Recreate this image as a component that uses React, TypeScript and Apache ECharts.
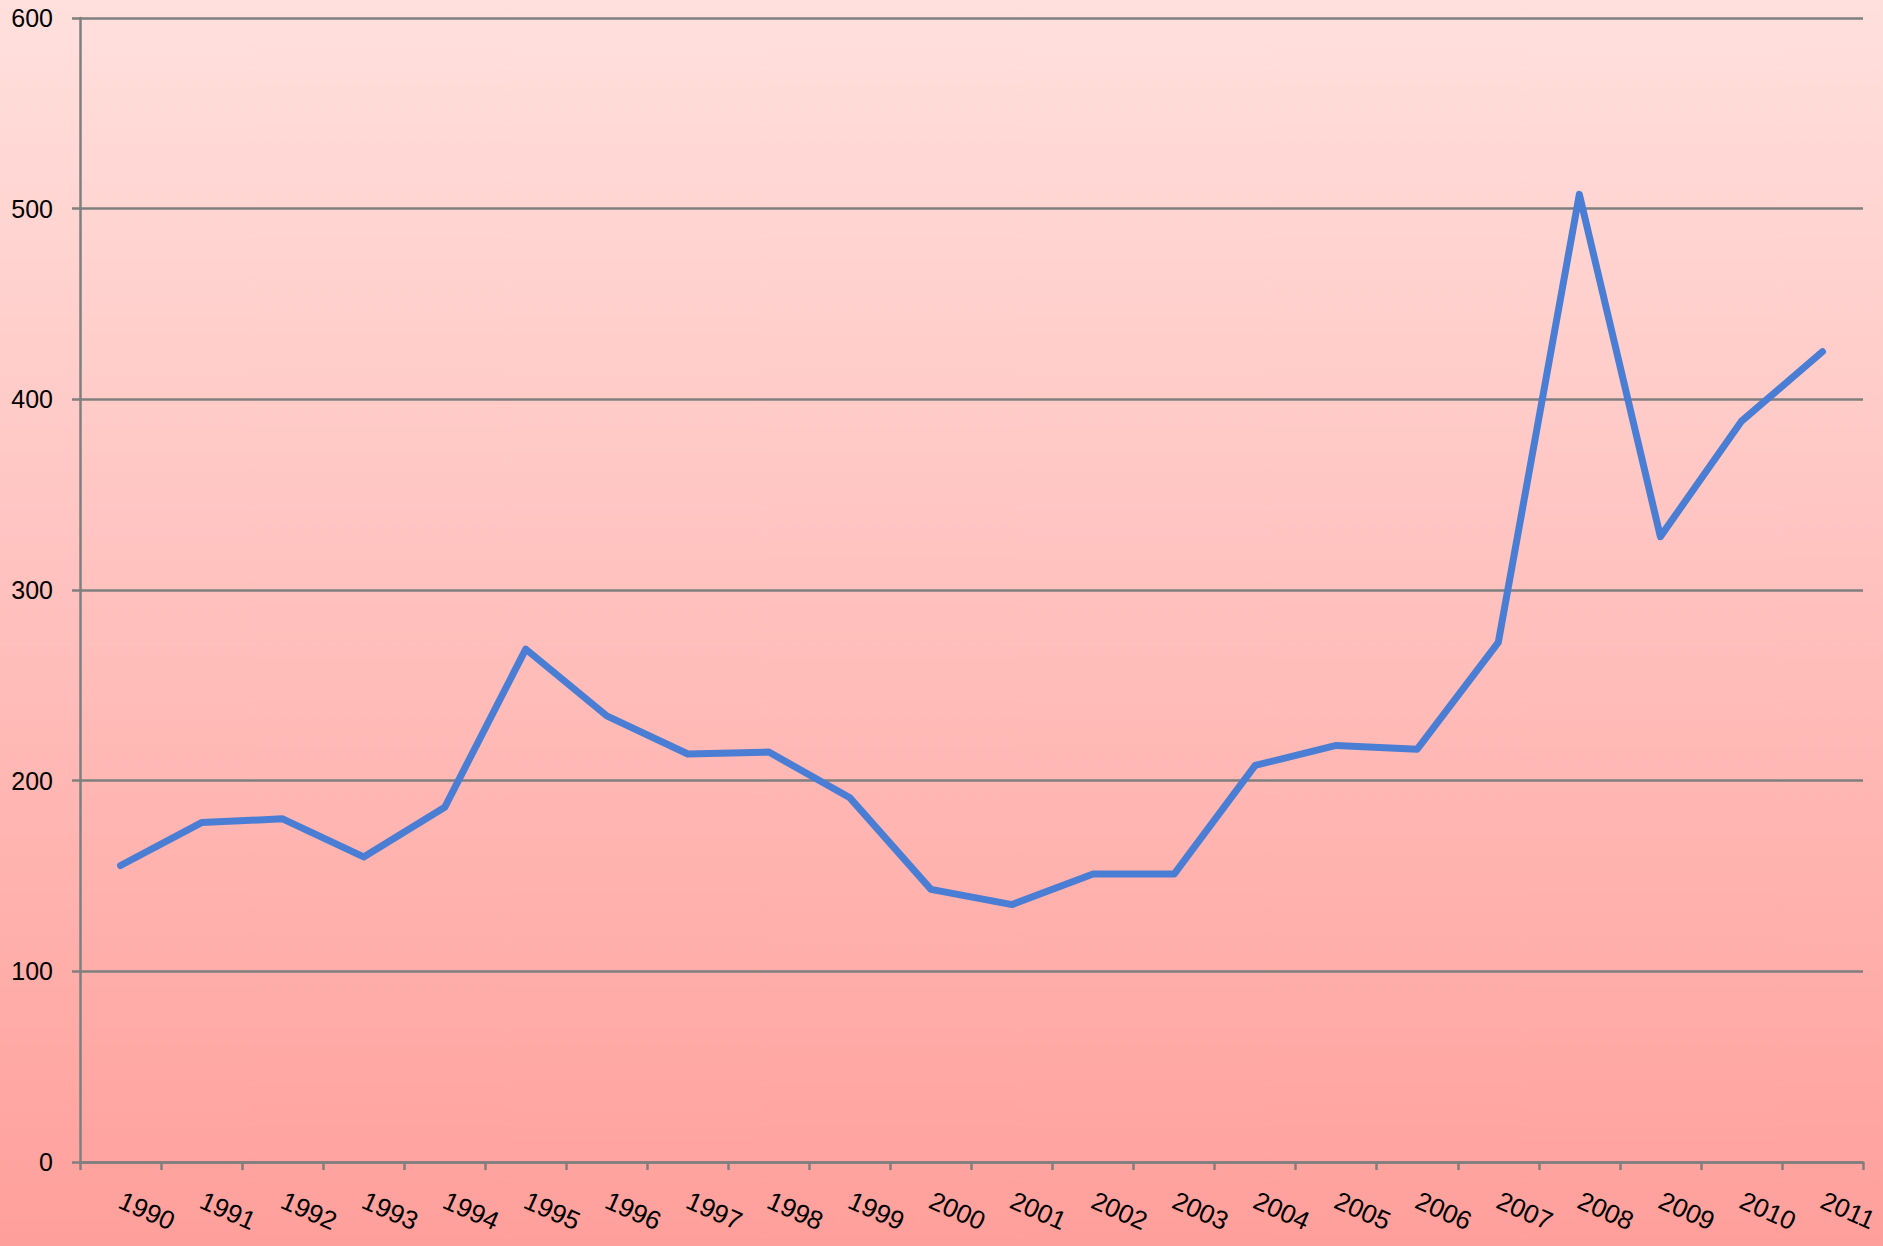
import React, { useEffect, useRef } from "react";
import * as echarts from "echarts";

const years = [
  "1990", "1991", "1992", "1993", "1994", "1995", "1996", "1997", "1998", "1999", "2000",
  "2001", "2002", "2003", "2004", "2005", "2006", "2007", "2008", "2009", "2010", "2011",
];
const values = [
  155.5, 178, 180, 160, 186, 269, 234, 214, 215, 191, 143,
  135, 151, 151, 208, 218.5, 216.5, 272.5, 507.5, 328, 388.5, 425,
];
const yTicks = { min: 0, max: 600, interval: 100 };

export default function App() {
  const ref = useRef<HTMLDivElement>(null);
  useEffect(() => {
    document.body.style.margin = "0";
    const chart = echarts.init(ref.current!, null, { renderer: "svg" });
    chart.setOption({
      animation: false,
      backgroundColor: {
        type: "linear",
        x: 0, y: 0, x2: 0, y2: 1,
        colorStops: [
          { offset: 0, color: "#FFE0DD" },
          { offset: 1, color: "#FF9F9B" },
        ],
      },
      textStyle: { fontFamily: "Liberation Sans, Arial, sans-serif" },
      grid: { left: 80, right: 20, top: 18, bottom: 84, containLabel: false },
      xAxis: {
        type: "category",
        data: years,
        boundaryGap: true,
        axisLine: { show: true, lineStyle: { color: "#7F7F7F", width: 2.5 } },
        axisTick: { show: true, length: 8, alignWithLabel: false, lineStyle: { color: "#7F7F7F", width: 2.5 } },
        axisLabel: {
          rotate: -24,
          margin: 37,
          fontSize: 26,
          color: "#000000",
          interval: 0,
          fontFamily: "Liberation Sans, Arial, sans-serif",
        },
        splitLine: { show: false },
      },
      yAxis: {
        type: "value",
        min: yTicks.min,
        max: yTicks.max,
        interval: yTicks.interval,
        axisLine: { show: true, lineStyle: { color: "#7F7F7F", width: 2.5 } },
        axisTick: { show: true, length: 8, lineStyle: { color: "#7F7F7F", width: 2.5 } },
        axisLabel: {
          margin: 27,
          fontSize: 25,
          color: "#000000",
          fontFamily: "Liberation Sans, Arial, sans-serif",
        },
        splitLine: { show: true, lineStyle: { color: "#7F7F7F", width: 2.5 } },
      },
      series: [
        {
          type: "line",
          data: values,
          symbol: "none",
          lineStyle: { color: "#4A7ED4", width: 7, cap: "round", join: "round" },
          itemStyle: { color: "#4A7ED4" },
        },
      ],
    });
    return () => chart.dispose();
  }, []);
  return (
    <div
      ref={ref}
      style={{ position: "absolute", left: 0, top: 0, width: 1883, height: 1246 }}
    />
  );
}
